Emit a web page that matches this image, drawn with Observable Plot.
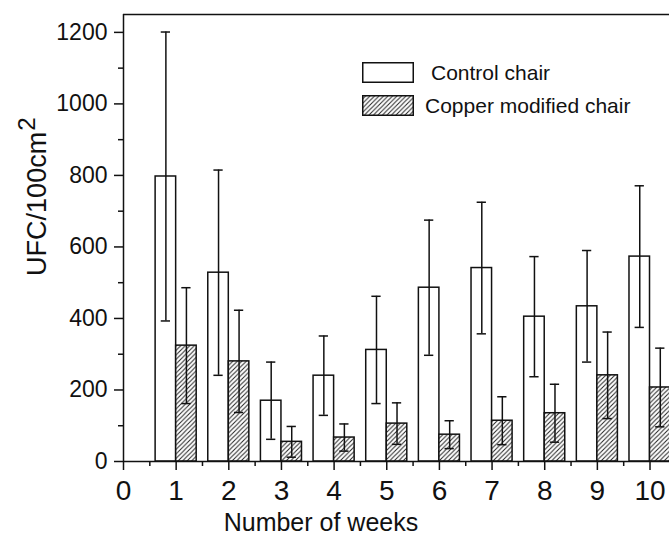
<!DOCTYPE html>
<html>
<head>
<meta charset="utf-8">
<script src="https://cdn.jsdelivr.net/npm/d3@7"></script>
<script src="https://cdn.jsdelivr.net/npm/@observablehq/plot@0.6"></script>
<style>
  body { margin: 0; background: #fff; }
  #wrap { position: relative; width: 669px; height: 538px; overflow: hidden; font-family: "Liberation Sans", Arial, sans-serif; color: #111; }
  #legend { position: absolute; left: 362px; top: 62px; font-size: 21px; }
  .row { position: relative; height: 20px; margin-bottom: 13px; }
  .row svg { position: absolute; left: 0; top: 0; }
  .row span { position: absolute; top: 50%; transform: translateY(-50%); white-space: nowrap; line-height: 1; }
</style>
</head>
<body>
<div id="wrap"></div>
<script>
const weeks = [1, 2, 3, 4, 5, 6, 7, 8, 9, 10];
const controlMean = [797, 528, 170, 240, 312, 486, 541, 405, 434, 573];
const controlSD = [404, 287, 108, 111, 150, 189, 184, 168, 156, 198];
const copperMean = [324, 280, 55, 67, 106, 75, 114, 135, 241, 207];
const copperSD = [162, 143, 43, 38, 58, 39, 67, 81, 121, 110];
const seriesNames = ["Control chair", "Copper modified chair"];
const yTicks = [0, 200, 400, 600, 800, 1000, 1200];
const yMinorTicks = [100, 300, 500, 700, 900, 1100];
const xTicks = [0, 1, 2, 3, 4, 5, 6, 7, 8, 9, 10];
const xMinorTicks = [0.5, 1.5, 2.5, 3.5, 4.5, 5.5, 6.5, 7.5, 8.5, 9.5];
const xTitle = "Number of weeks";
const yTitle = "UFC/100cm";
const yTitleSup = "2";

const barW = 0.39;
const rows = weeks.flatMap((w, i) => [
  {week: w, series: seriesNames[0], mean: controlMean[i], sd: controlSD[i], x1: w - barW, x2: w},
  {week: w, series: seriesNames[1], mean: copperMean[i], sd: copperSD[i], x1: w, x2: w + barW}
]);
rows.forEach(d => { d.xc = (d.x1 + d.x2) / 2; });
const capHalf = 0.088;

const chart = Plot.plot({
  width: 669,
  height: 538,
  marginLeft: 123,
  marginRight: 0,
  marginTop: 14,
  marginBottom: 77,
  x: {domain: [0, 10.37], label: null},
  y: {domain: [0, 1250], label: null},
  style: {fontFamily: "'Liberation Sans', Arial, sans-serif", color: "#111", background: "white"},
  marks: [
    Plot.rectY(rows, {
      x1: "x1", x2: "x2", y1: 0, y2: "mean",
      fill: d => d.series === seriesNames[0] ? "white" : "url(#hatch)",
      stroke: "#111", strokeWidth: 1.5
    }),
    Plot.ruleX(rows, {x: "xc", y1: d => d.mean - d.sd, y2: d => d.mean + d.sd, stroke: "#111", strokeWidth: 1.5}),
    Plot.ruleY(rows, {y: d => d.mean + d.sd, x1: d => d.xc - capHalf, x2: d => d.xc + capHalf, stroke: "#111", strokeWidth: 1.5}),
    Plot.ruleY(rows, {y: d => d.mean - d.sd, x1: d => d.xc - capHalf, x2: d => d.xc + capHalf, stroke: "#111", strokeWidth: 1.5}),
    Plot.ruleY([0], {stroke: "#111", strokeWidth: 1.5}),
    Plot.ruleY([1250], {stroke: "#111", strokeWidth: 1.5}),
    Plot.ruleX([0], {stroke: "#111", strokeWidth: 1.5}),
    Plot.axisY({ticks: yTicks, tickSize: 9, tickPadding: 7, tickFormat: d => String(d), fontSize: 23, strokeWidth: 1.5, label: null}),
    Plot.axisY({ticks: yMinorTicks, tickSize: 5, tickFormat: () => "", strokeWidth: 1.5, label: null}),
    Plot.axisX({ticks: xTicks, tickSize: 9, tickPadding: 10, tickFormat: d => String(d), fontSize: 28, strokeWidth: 1.5, label: null}),
    Plot.axisX({ticks: xMinorTicks, tickSize: 5, tickFormat: () => "", strokeWidth: 1.5, label: null}),
    Plot.text([xTitle], {x: () => 3.75, frameAnchor: "bottom", dy: 69, lineAnchor: "bottom", fontSize: 25, fill: "#111"}),
    Plot.text([yTitle], {y: () => 741, frameAnchor: "left", dx: -97, rotate: -90, textAnchor: "middle", lineAnchor: "top", fontSize: 27, fill: "#111"})
  ]
});

const svg = d3.select(chart);
const defs = svg.insert("defs", ":first-child");
const pat = defs.append("pattern").attr("id", "hatch").attr("patternUnits", "userSpaceOnUse").attr("width", 4.5).attr("height", 4.5);
pat.append("rect").attr("width", 4.5).attr("height", 4.5).attr("fill", "white");
pat.append("path").attr("d", "M-1,1 l2,-2 M0,4.5 l4.5,-4.5 M3.5,5.5 l2,-2").attr("stroke", "#222").attr("stroke-width", 1);

svg.selectAll("text").filter(function() { return this.textContent === yTitle; })
  .each(function() {
    d3.select(this).append("tspan").attr("dy", "-0.42em").attr("dx", "0.05em").attr("font-size", "0.9em").text(yTitleSup);
  });

const wrap = document.getElementById("wrap");
wrap.appendChild(chart);

const legend = document.createElement("div");
legend.id = "legend";
const swatchFill = ["white", "url(#hatchL)"];
const textLeft = [69, 63];
legend.innerHTML = seriesNames.map((name, i) => `
  <div class="row">
    <svg width="52" height="21" viewBox="0 0 52 21">
      <defs><pattern id="hatchL" patternUnits="userSpaceOnUse" width="4.5" height="4.5">
        <rect width="4.5" height="4.5" fill="white"/><path d="M-1,1 l2,-2 M0,4.5 l4.5,-4.5 M3.5,5.5 l2,-2" stroke="#222" stroke-width="1"/>
      </pattern></defs>
      <rect x="0.75" y="0.75" width="50.5" height="19.5" fill="${swatchFill[i]}" stroke="#111" stroke-width="1.5"/>
    </svg>
    <span style="left:${textLeft[i]}px">${name}</span>
  </div>`).join("");
wrap.appendChild(legend);
</script>
</body>
</html>
